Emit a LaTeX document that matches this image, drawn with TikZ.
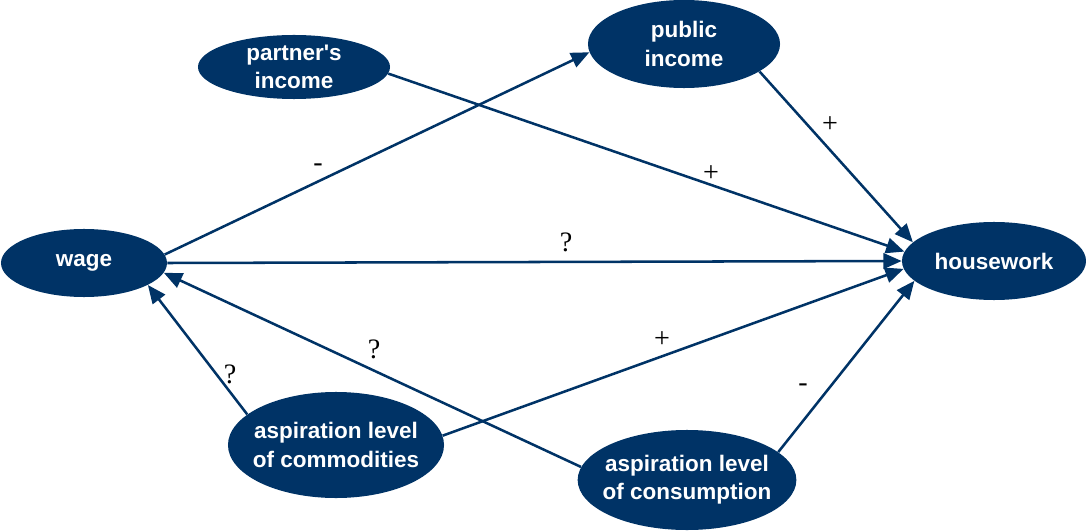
\documentclass[tikz,border=0pt]{standalone}
\usepackage{fontspec}
\setmainfont{Liberation Serif}
\newfontfamily\varfont{Liberation Sans}
\usetikzlibrary{arrows.meta,shapes.geometric}
\definecolor{hwBlue}{HTML}{003366}

\begin{document}
\begin{tikzpicture}[x=0.025cm,y=-0.025cm,
  var/.style={ellipse,fill=hwBlue,text=white,inner xsep=-5pt,inner ysep=0pt,
    align=center,font=\varfont\bfseries\fontsize{16}{20}\selectfont},
  link/.style={hwBlue,line width=1.8pt,-{Triangle[length=13pt,width=11pt]}},
  sign/.style={inner sep=0pt,font=\fontsize{20}{22}\selectfont}]
\useasboundingbox (0,0) rectangle (1086,531);
% variables
\node[var,minimum width=4.15cm,minimum height=1.7cm] (wage) at (84,263) {wage};
\node[var,minimum width=4.8cm,minimum height=1.6cm] (partner) at (294,67) {partner's\\income};
\node[var,minimum width=4.8cm,minimum height=2.2cm] (public) at (684,44) {public\\income};
\node[var,minimum width=4.6cm,minimum height=1.95cm] (house) at (994,261) {housework};
\node[var,minimum width=5.4cm,minimum height=2.65cm] (commod) at (336,445) {aspiration level\\of commodities};
\node[var,minimum width=5.35cm,minimum height=2.5cm] (consum) at (687,480) {aspiration level\\of consumption};
% effects
\draw[link] (wage.6) -- (public.185);
\draw[link] (partner.356) -- (house.174);
\draw[link] (public.340) -- (house.167);
\draw[link] (wage.0) -- (house.180);
\draw[link] (commod.161) -- (wage.341);
\draw[link] (consum.173) -- (wage.353);
\draw[link] (commod.5) -- (house.185);
\draw[link] (consum.17) -- (house.194);
% signs
\node[sign] (s1) at (318,168) {-};
\node[sign] (s2) at (711,174) {+};
\node[sign] (s3) at (830,125) {+};
\node[sign] (s4) at (566,242) {?};
\node[sign] (s5) at (230,374) {?};
\node[sign] (s6) at (374,349) {?};
\node[sign] (s7) at (662,340) {+};
\node[sign] (s8) at (803,388) {-};
\end{tikzpicture}
\end{document}
